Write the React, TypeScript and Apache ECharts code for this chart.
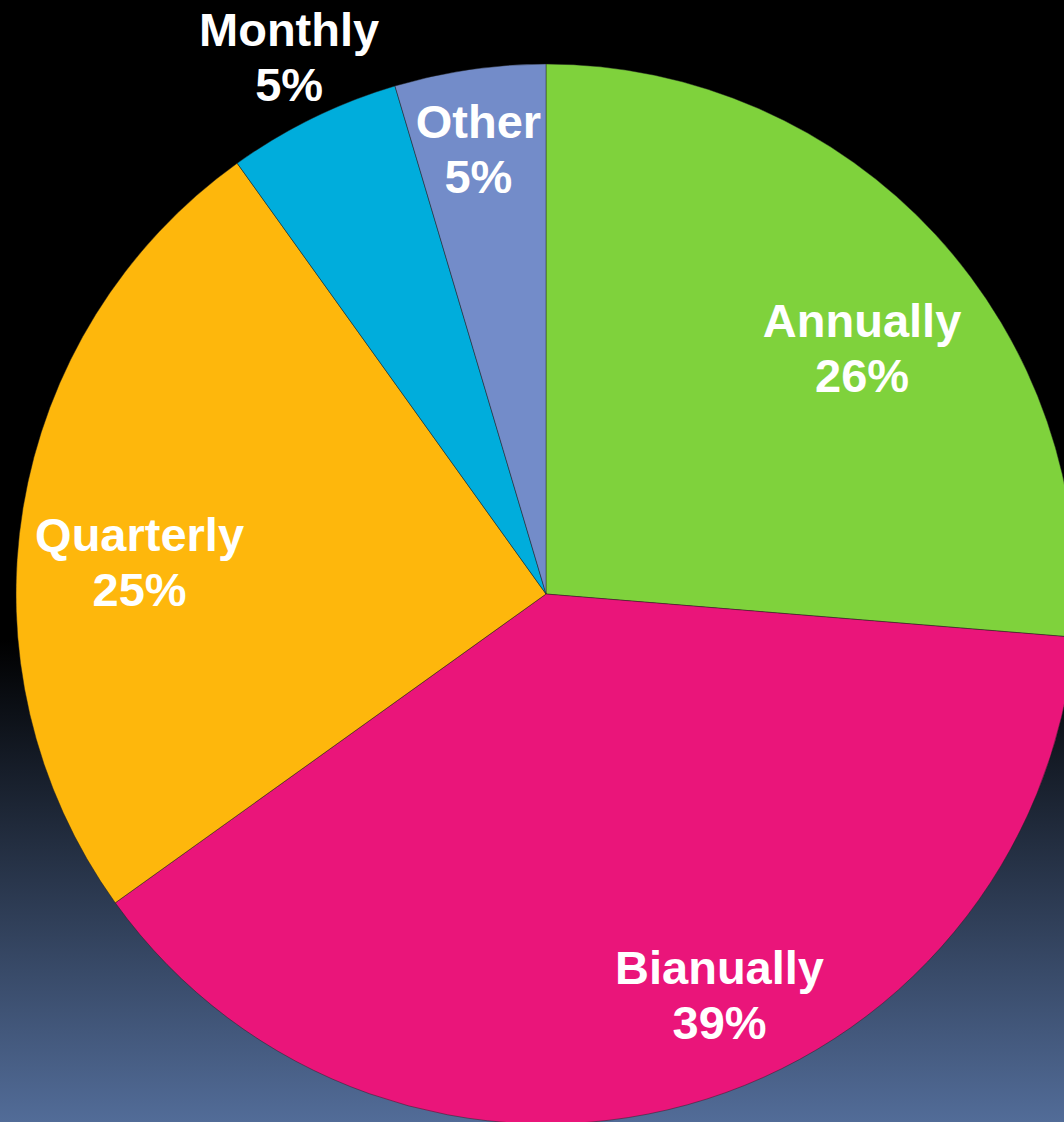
import React, { useEffect, useRef } from "react";
import * as echarts from "echarts";

const categories = ["Annually", "Bianually", "Quarterly", "Monthly", "Other"];
const values = [26.3, 38.8, 25.0, 5.3, 4.6];
const colors = ["#7FD23C", "#EA157A", "#FEB70C", "#00ADDC", "#738CC9"];
// label offsets from the default inside position (layout tuning)
const labelOffsets = [
  [119, -64],
  [102, 143],
  [-142, 12],
  [-139, -296],
  [-29, -180],
];

export default function App() {
  const ref = useRef<HTMLDivElement>(null);
  useEffect(() => {
    document.body.style.margin = "0";
    const chart = echarts.init(ref.current!, null, { renderer: "svg" });
    const total = values.reduce((a, b) => a + b, 0);
    chart.setOption({
      animation: false,
      backgroundColor: {
        type: "linear",
        x: 0,
        y: 0,
        x2: 0,
        y2: 1,
        colorStops: [
          { offset: 0, color: "#000000" },
          { offset: 0.57, color: "#000000" },
          { offset: 1, color: "#526C98" },
        ],
      },
      series: [
        {
          type: "pie",
          center: [546, 594],
          radius: 530,
          startAngle: 90,
          clockwise: true,
          silent: true,
          itemStyle: { borderColor: "rgba(30,30,30,0.45)", borderWidth: 1 },
          label: {
            show: true,
            position: "inside",
            color: "#ffffff",
            fontFamily: "Liberation Sans, Arial, sans-serif",
            fontWeight: "bold",
            fontSize: 47,
            lineHeight: 55,
            align: "center",
            formatter: (p: any) =>
              `${p.name}\n${Math.round((p.value / total) * 100)}%`,
          },
          labelLine: { show: false },
          labelLayout: (p: any) => ({
            dx: labelOffsets[p.dataIndex][0],
            dy: labelOffsets[p.dataIndex][1],
          }),
          data: categories.map((c, i) => ({
            name: c,
            value: values[i],
            itemStyle: { color: colors[i] },
          })),
        },
      ],
    });
    return () => chart.dispose();
  }, []);
  return (
    <div
      ref={ref}
      style={{ position: "absolute", left: 0, top: 0, width: 1064, height: 1122 }}
    />
  );
}
